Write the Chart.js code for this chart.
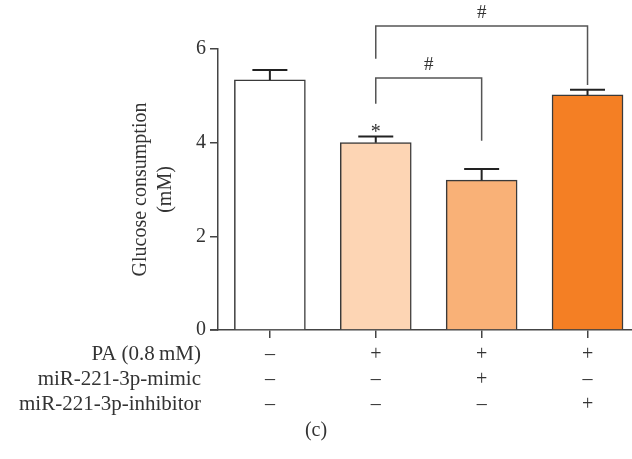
<!DOCTYPE html>
<html>
<head>
<meta charset="utf-8">
<script src="https://cdn.jsdelivr.net/npm/chart.js@4.4.1/dist/chart.umd.min.js"></script>
<style>
  html, body { margin: 0; padding: 0; background: #fff; overflow: hidden; }
  #wrap { width: 632px; height: 459px; }
</style>
</head>
<body>
<div id="wrap"><canvas id="chart" width="632" height="459"></canvas></div>
<script>
/*********************************************
 *  DATA
 *********************************************/
const groups = ["Control", "PA", "PA + mimic", "PA + inhibitor"];
const consumption = [5.34, 4.0, 3.2, 5.02];
const errorUp = [0.21, 0.13, 0.24, 0.11];
const barColors = ["#ffffff", "#fdd5b4", "#f9b177", "#f47f24"];

const rowLabels = ["PA (0.8\u2009mM)", "miR-221-3p-mimic", "miR-221-3p-inhibitor"];
const paSigns = ["\u2013", "+", "+", "+"];
const mimicSigns = ["\u2013", "\u2013", "+", "\u2013"];
const inhibitorSigns = ["\u2013", "\u2013", "\u2013", "+"];

const yTicks = [0, 2, 4, 6];

// significance brackets: from/to bar index, bar height (y), foot ends
const brackets = [
  { from: 1, to: 3, y: 6.49, leftFoot: 5.79, rightFoot: 5.23, label: "#" },
  { from: 1, to: 2, y: 5.38, leftFoot: 4.83, rightFoot: 4.04, label: "#" },
];
const stars = [{ bar: 1, y: 4.3, label: "*" }];

const FONT = "'Liberation Serif', 'Times New Roman', serif";
const INK = "#333333";
const LINE = "#444444";

/*********************************************
 *  OVERLAY PLUGIN (error bars, brackets, row labels)
 *********************************************/
const overlay = {
  id: "overlay",
  afterDatasetsDraw(chart) {
    const { ctx } = chart;
    const x = chart.scales.x;
    const y = chart.scales.y;

    ctx.save();

    // error bars (upper only)
    ctx.strokeStyle = "#222";
    ctx.lineWidth = 2;
    consumption.forEach((v, i) => {
      const px = x.getPixelForValue(i);
      const top = y.getPixelForValue(v + errorUp[i]);
      const base = y.getPixelForValue(v);
      ctx.beginPath();
      ctx.moveTo(px, base);
      ctx.lineTo(px, top);
      ctx.moveTo(px - 17.5, top);
      ctx.lineTo(px + 17.5, top);
      ctx.stroke();
    });

    // brackets
    ctx.strokeStyle = "#555";
    ctx.lineWidth = 1.5;
    ctx.fillStyle = INK;
    ctx.font = "19px " + FONT;
    ctx.textAlign = "center";
    ctx.textBaseline = "middle";
    brackets.forEach((b) => {
      const x1 = x.getPixelForValue(b.from);
      const x2 = x.getPixelForValue(b.to);
      const by = y.getPixelForValue(b.y);
      ctx.beginPath();
      ctx.moveTo(x1, y.getPixelForValue(b.leftFoot));
      ctx.lineTo(x1, by);
      ctx.lineTo(x2, by);
      ctx.lineTo(x2, y.getPixelForValue(b.rightFoot));
      ctx.stroke();
      ctx.fillText(b.label, (x1 + x2) / 2, by - 13);
    });

    ctx.font = "20px " + FONT;
    stars.forEach((s) => {
      ctx.fillText(s.label, x.getPixelForValue(s.bar), y.getPixelForValue(s.y) + 4);
    });

    // short axis stub left of the y axis
    ctx.strokeStyle = LINE;
    ctx.lineWidth = 1.5;
    ctx.beginPath();
    ctx.moveTo(x.left - 8, x.top);
    ctx.lineTo(x.left, x.top);
    ctx.stroke();

    // row labels of the condition table
    const xt = x.options.ticks;
    const lh = 25;
    const y0 = x.top + x.options.grid.tickLength + xt.padding + lh / 2;
    ctx.font = "21px " + FONT;
    ctx.textAlign = "right";
    rowLabels.forEach((t, i) => {
      ctx.fillText(t, 201, y0 + i * lh);
    });

    // panel letter
    ctx.font = "20px " + FONT;
    ctx.textAlign = "center";
    ctx.fillText("(c)", chart.width / 2, y0 + 3 * lh + 1);

    ctx.restore();
  },
};

/*********************************************
 *  CHART
 *********************************************/
const ctx = document.getElementById("chart").getContext("2d");

new Chart(ctx, {
  type: "bar",
  data: {
    labels: groups,
    datasets: [
      {
        label: "Glucose consumption",
        data: consumption.map((v, i) => ({ x: i, y: v })),
        backgroundColor: barColors,
        borderColor: "#3a3a3a",
        borderWidth: 1.5,
        borderSkipped: "bottom",
        barThickness: 71,
      },
    ],
  },
  options: {
    responsive: false,
    animation: false,
    layout: { padding: { left: 128, top: 49, right: 0, bottom: 0 } },
    plugins: {
      legend: { display: false },
      tooltip: { enabled: false },
    },
    scales: {
      x: {
        type: "linear",
        offset: false,
        min: -0.49,
        max: 3.42,
        afterBuildTicks: (s) => {
          s.ticks = groups.map((g, i) => ({ value: i }));
        },
        afterFit: (s) => {
          s.height = 129;
        },
        border: { display: true, color: LINE, width: 1.5 },
        grid: { offset: false, drawOnChartArea: false, drawTicks: true, tickLength: 8, color: LINE, lineWidth: 1.5 },
        ticks: {
          autoSkip: false,
          maxRotation: 0,
          padding: 4,
          color: INK,
          font: { family: FONT, size: 20, lineHeight: 1.25 },
          callback: (v) => [paSigns[v], mimicSigns[v], inhibitorSigns[v]],
        },
      },
      y: {
        min: 0,
        max: 6,
        afterBuildTicks: (s) => {
          s.ticks = yTicks.map((v) => ({ value: v }));
        },
        afterFit: (s) => {
          s.width = 90;
        },
        border: { display: true, color: LINE, width: 1.5 },
        grid: { drawOnChartArea: false, drawTicks: true, tickLength: 8, color: LINE, lineWidth: 1.5 },
        ticks: {
          padding: 4,
          color: INK,
          font: { family: FONT, size: 20 },
        },
        title: {
          display: true,
          text: ["Glucose consumption", "(mM)"],
          color: INK,
          padding: 0,
          font: { family: FONT, size: 20, lineHeight: 1.25 },
        },
      },
    },
  },
  plugins: [overlay],
});
</script>
</body>
</html>
